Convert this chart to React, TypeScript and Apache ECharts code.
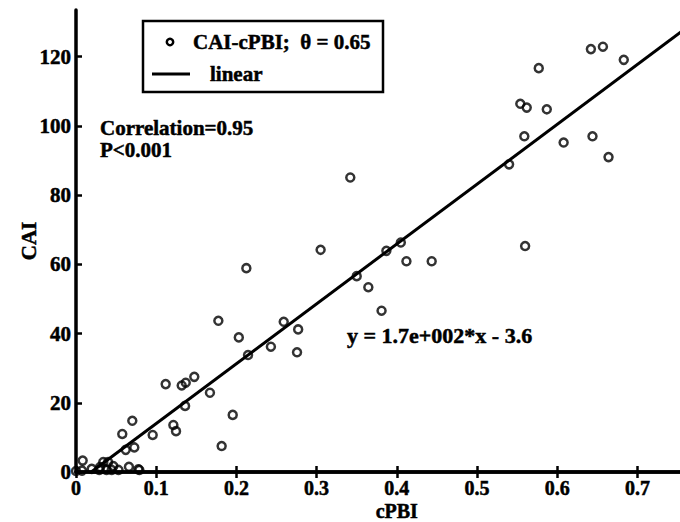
import React, { useEffect, useRef } from "react";
import * as echarts from "echarts";

const xTicks = [0, 0.1, 0.2, 0.3, 0.4, 0.5, 0.6, 0.7, 0.8];
const yTicks = [0, 20, 40, 60, 80, 100, 120];

const cpbi = [
  0.642, 0.657, 0.683, 0.577, 0.554, 0.562, 0.587, 0.559, 0.608, 0.644, 0.664, 0.54, 0.56,
  0.342, 0.305, 0.387, 0.405, 0.412, 0.4435, 0.35, 0.3645, 0.381,
  0.2124, 0.1775, 0.203, 0.259, 0.277, 0.243, 0.2145, 0.2756,
  0.1118, 0.1318, 0.1368, 0.1475, 0.167, 0.136, 0.1954, 0.1214, 0.1247, 0.0956, 0.1816,
  0.0702, 0.0577, 0.0727, 0.062, 0.0083, 0.066, 0.0777,
  0.0075, 0.0196, 0.03, 0.034, 0.04, 0.0465, 0.053, 0.079, 0.0, 0.029, 0.038, 0.0445,
];
const cai = [
  122.2, 122.9, 119.1, 116.7, 106.4, 105.3, 104.8, 97.0, 95.2, 97.0, 91.0, 88.9, 65.3,
  85.1, 64.2, 63.9, 66.3, 60.9, 60.9, 56.6, 53.4, 46.6,
  58.9, 43.7, 38.9, 43.4, 41.2, 36.2, 33.8, 34.6,
  25.4, 25.0, 25.8, 27.5, 22.9, 19.1, 16.5, 13.6, 11.8, 10.7, 7.5,
  14.8, 11.0, 7.1, 6.4, 3.3, 1.5, 0.8,
  0.4, 0.9, 1.4, 2.9, 2.9, 1.7, 0.6, 0.6, 0.3, 0.6, 0.6, 0.6,
];
const fitX = [0.019, 0.78];
const fitY = [0, 131.6];

const FONT = "Liberation Serif";
const FS = 21;

export default function App() {
  const ref = useRef<HTMLDivElement>(null);
  useEffect(() => {
    if (!ref.current) return;
    const chart = echarts.init(ref.current, null, { renderer: "svg" });
    const scatterData = cpbi.map((x, i) => [x, cai[i]]);
    const lineData = fitX.map((x, i) => [x, fitY[i]]);
    const labelStyle = {
      color: "#000",
      fontFamily: FONT,
      fontWeight: "bold" as const,
      fontSize: FS,
      textBorderColor: "#000",
      textBorderWidth: 0.5,
    };
    const gText = (text: string, x: number, y: number, fs: number) => ({
      type: "text",
      x,
      y,
      style: {
        text,
        fill: "#000",
        stroke: "#000",
        lineWidth: 0.5,
        font: `bold ${fs}px "${FONT}"`,
        verticalAlign: "middle",
      },
      z: 11,
    });
    chart.setOption({
      animation: false,
      backgroundColor: "#fff",
      grid: {
        left: 76,
        top: 10,
        width: 641.6,
        height: 462,
        containLabel: false,
        outerBoundsMode: "none",
      },
      xAxis: [
        {
          type: "value",
          min: xTicks[0],
          max: xTicks[xTicks.length - 1],
          interval: 0.1,
          name: "cPBI",
          nameLocation: "middle",
          nameGap: 30,
          nameMoveOverlap: false,
          nameTextStyle: { ...labelStyle, fontSize: 20, lineHeight: 18 },
          axisLine: { onZero: false, lineStyle: { color: "#000", width: 3.5 } },
          axisTick: { inside: true, length: 6, lineStyle: { color: "#000", width: 2.5 } },
          axisLabel: {
            ...labelStyle,
            fontSize: 20,
            lineHeight: 18,
            margin: 7,
            showMaxLabel: false,
            formatter: (v: number) => String(Math.round(v * 10) / 10),
          },
          splitLine: { show: false },
        },
        {
          type: "value",
          position: "top",
          min: xTicks[0],
          max: xTicks[xTicks.length - 1],
          interval: 0.1,
          axisLine: { lineStyle: { color: "#000", width: 3.5 } },
          axisTick: { inside: true, length: 6, lineStyle: { color: "#000", width: 2.5 } },
          axisLabel: { show: false },
          splitLine: { show: false },
        },
      ],
      yAxis: {
        type: "value",
        min: yTicks[0],
        max: 133.5,
        interval: 20,
        name: "CAI",
        nameLocation: "middle",
        nameGap: 37,
        nameMoveOverlap: false,
        nameTextStyle: { ...labelStyle },
        axisLine: { onZero: false, lineStyle: { color: "#000", width: 3.5 } },
        axisTick: { inside: true, length: 6, lineStyle: { color: "#000", width: 2.5 } },
        axisLabel: {
          ...labelStyle,
          margin: 5,
          showMaxLabel: false,
          formatter: (v: number) => (yTicks.includes(v) ? String(v) : ""),
        },
        splitLine: { show: false },
      },
      series: [
        {
          name: "CAI-cPBI",
          type: "scatter",
          data: scatterData,
          symbol: "circle",
          symbolSize: 8,
          itemStyle: { color: "rgba(0,0,0,0)", borderColor: "#000", borderWidth: 2.5 },
          z: 3,
        },
        {
          name: "linear",
          type: "line",
          data: lineData,
          showSymbol: false,
          lineStyle: { color: "#000", width: 3 },
          z: 2,
        },
      ],
      graphic: [
        {
          type: "rect",
          shape: { x: 143, y: 21, width: 240, height: 71 },
          style: { fill: "#fff", stroke: "#000", lineWidth: 2.5 },
          z: 10,
        },
        {
          type: "circle",
          shape: { cx: 170, cy: 42, r: 3.2 },
          style: { fill: "none", stroke: "#000", lineWidth: 2.5 },
          z: 11,
        },
        gText("CAI-cPBI;  θ = 0.65", 193, 42, 21),
        {
          type: "line",
          shape: { x1: 152, y1: 74, x2: 190, y2: 74 },
          style: { stroke: "#000", lineWidth: 3 },
          z: 11,
        },
        gText("linear", 210, 74, 21),
        gText("Correlation=0.95", 100, 128, 21),
        gText("P<0.001", 100, 150, 21),
        gText("y = 1.7e+002*x - 3.6", 347, 335, 22),
      ],
    });
    return () => chart.dispose();
  }, []);
  return (
    <div style={{ position: "fixed", left: 0, top: 0, width: 680, height: 522, overflow: "hidden", background: "#fff" }}>
      <div ref={ref} style={{ width: 800, height: 522 }} />
    </div>
  );
}
